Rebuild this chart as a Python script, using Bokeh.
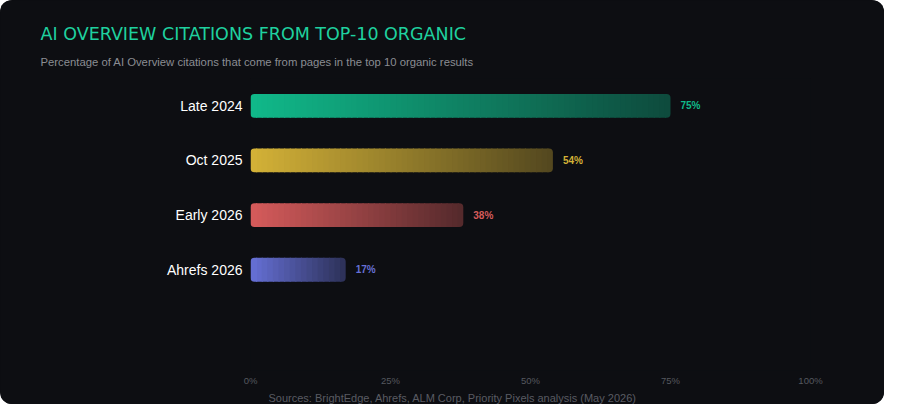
import numpy as np
from bokeh.plotting import figure
from bokeh.models import Range1d, FixedTicker, Title, ColumnDataSource
from bokeh.core.properties import value
from bokeh.embed import file_html
from bokeh.resources import INLINE

categories = ["Late 2024", "Oct 2025", "Early 2026", "Ahrefs 2026"]
shares = [75, 54, 38, 17]
bar_colors = ["#10b98a", "#d4b237", "#d65b5b", "#6670d6"]
x_ticks = [0, 25, 50, 75, 100]

BG = "#0d0e12"
FONT = "Liberation Sans"


def mix(hex_color, a):
    # blend a colour over the card background, a=1 -> full colour
    c = [int(hex_color[i:i + 2], 16) for i in (1, 3, 5)]
    b = [int(BG[i:i + 2], 16) for i in (1, 3, 5)]
    return "#%02x%02x%02x" % tuple(int(round(b[k] + a * (c[k] - b[k]))) for k in range(3))


# cut every bar into thin slices to fake the horizontal fade
step = 1.0
first = dict(y=[], left=[], right=[], color=[])
middle = dict(y=[], left=[], right=[], color=[])
last = dict(y=[], left=[], right=[], color=[])
for i, v in enumerate(shares):
    edges = np.append(np.arange(0, v, step), v)
    n = len(edges) - 1
    for k in range(n):
        a = 1 - 0.65 * (k + 0.5) / n
        target = first if k == 0 else (last if k == n - 1 else middle)
        target["y"].append(i)
        target["left"].append(edges[k])
        target["right"].append(min(edges[k + 1] + 0.2, v) if k < n - 1 else edges[k + 1])
        target["color"].append(mix(bar_colors[i], a))

p = figure(width=884, height=404, x_range=Range1d(0, 100), y_range=Range1d(4.845, -0.5),
           output_backend="svg", toolbar_location=None, title=None,
           min_border_left=250, min_border_right=74, min_border_top=78, min_border_bottom=32,
           background_fill_color=BG, border_fill_color=BG)
p.outline_line_color = None
p.grid.visible = False
# dark card behind the canvas so no light seams show round the frame
p.styles = {"border-radius": "12px", "overflow": "hidden", "background-color": BG}

bh = 24 / 55
p.hbar(y="y", left="left", right="right", height=bh, fill_color="color", line_color=None,
       source=ColumnDataSource(middle))
p.hbar(y="y", left="left", right="right", height=bh, fill_color="color", line_color=None,
       border_radius=(4, 0, 0, 4), source=ColumnDataSource(first))
p.hbar(y="y", left="left", right="right", height=bh, fill_color="color", line_color=None,
       border_radius=(0, 4, 4, 0), source=ColumnDataSource(last))

p.text(x=shares, y=list(range(len(shares))), text=["%d%%" % v for v in shares],
       x_offset=10, text_baseline="middle", text_color=bar_colors,
       text_font=value(FONT), text_font_size="10px", text_font_style="bold")

p.yaxis.ticker = FixedTicker(ticks=list(range(len(categories))))
p.yaxis.major_label_overrides = {i: c for i, c in enumerate(categories)}
p.yaxis.major_label_text_color = "#ffffff"
p.yaxis.major_label_text_font = FONT
p.yaxis.major_label_text_font_size = "14px"
p.yaxis.major_label_standoff = 8
p.yaxis.major_tick_out = 0
p.yaxis.major_tick_in = 0
p.yaxis.axis_line_color = None
p.yaxis.major_tick_line_color = None
p.yaxis.minor_tick_line_color = None

p.xaxis.ticker = FixedTicker(ticks=x_ticks)
p.xaxis.major_label_overrides = {t: "%d%%" % t for t in x_ticks}
p.xaxis.major_label_text_color = "#55585f"
p.xaxis.major_label_text_font = FONT
p.xaxis.major_label_text_font_size = "9.5px"
p.xaxis.major_label_standoff = 4
p.xaxis.major_tick_out = 0
p.xaxis.major_tick_in = 0
p.xaxis.axis_line_color = None
p.xaxis.major_tick_line_color = None
p.xaxis.minor_tick_line_color = None

p.add_layout(Title(text="Sources: BrightEdge, Ahrefs, ALM Corp, Priority Pixels analysis (May 2026)",
                   align="left", offset=18, standoff=2, text_color="#595b62", text_font=FONT,
                   text_font_size="11px", text_font_style="normal"), "below")
p.add_layout(Title(text="Percentage of AI Overview citations that come from pages in the top 10 organic results",
                   align="left", offset=-210, standoff=21, text_color="#8b8d93", text_font=FONT,
                   text_font_size="11.3px", text_font_style="normal"), "above")
p.add_layout(Title(text="AI OVERVIEW CITATIONS FROM TOP-10 ORGANIC",
                   align="left", offset=-210, standoff=0, text_color="#1fd19f", text_font="DejaVu Sans",
                   text_font_size="17.5px", text_font_style="normal"), "above")

open("out.html", "w").write(file_html(p, INLINE))
